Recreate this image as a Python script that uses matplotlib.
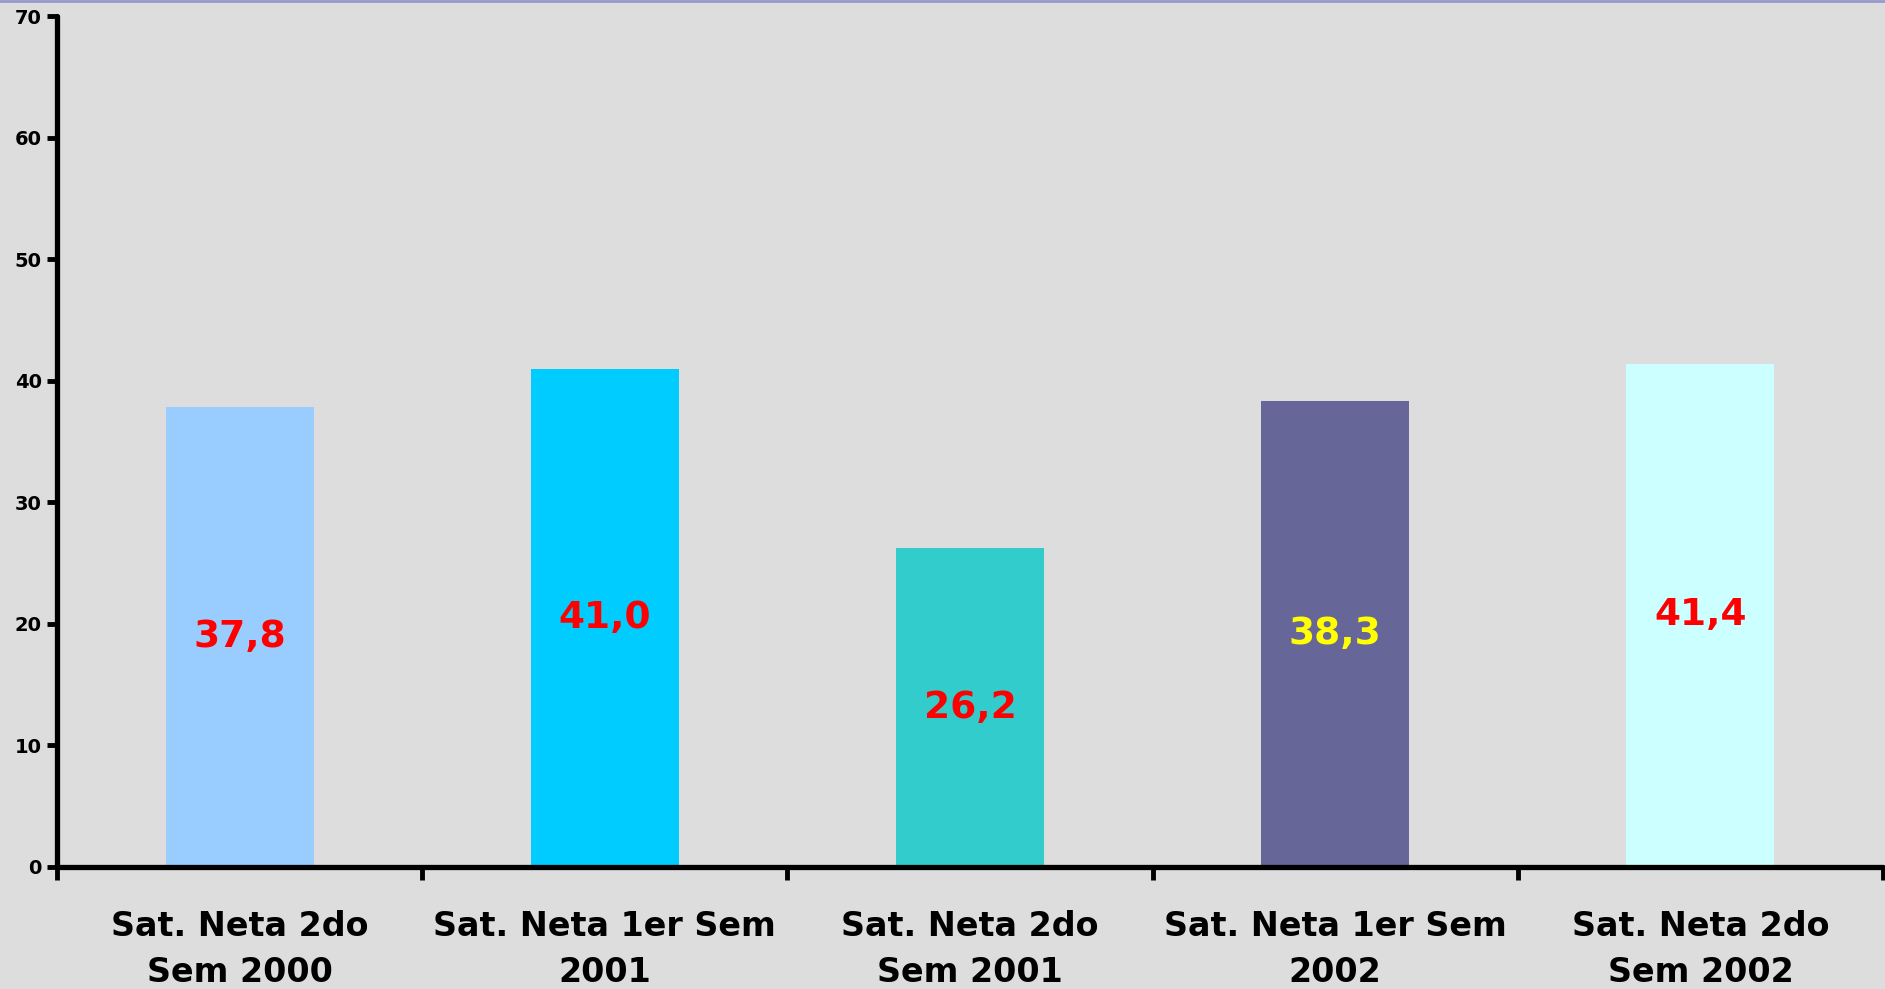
import matplotlib
matplotlib.use("Agg")
import matplotlib.pyplot as plt
from matplotlib.lines import Line2D

# Satisfacción neta por semestre
categories = [
    "Sat. Neta 2do\nSem 2000",
    "Sat. Neta 1er Sem\n2001",
    "Sat. Neta 2do\nSem 2001",
    "Sat. Neta 1er Sem\n2002",
    "Sat. Neta 2do\nSem 2002",
]
values = [37.8, 41.0, 26.2, 38.3, 41.4]
bar_colors = ["#99ccff", "#00ccff", "#33cccc", "#666699", "#ccffff"]
label_colors = ["#ff0000", "#ff0000", "#ff0000", "#ffff00", "#ff0000"]
y_ticks = [0, 10, 20, 30, 40, 50, 60, 70]

BG = "#dddddd"
plt.rcParams["font.family"] = ["DejaVu Sans"]

fig = plt.figure(figsize=(18.85, 9.89), dpi=100, facecolor=BG)
ax = fig.add_axes([57 / 1885, 1 - 867 / 989, 1826 / 1885, 851 / 989])
ax.set_facecolor(BG)

x = list(range(len(categories)))
bars = ax.bar(x, values, width=0.405, color=bar_colors, zorder=2)

for xi, v, c in zip(x, values, label_colors):
    ax.text(xi, v / 2, f"{v:.1f}".replace(".", ","), ha="center", va="center",
            color=c, fontsize=27, fontweight="bold", zorder=3)

ax.set_xlim(-0.5, len(categories) - 0.5)
ax.set_ylim(0, 70)

# y axis
ax.set_yticks(y_ticks)
ax.set_yticklabels([str(t) for t in y_ticks], fontsize=14, fontweight="bold")
ax.tick_params(axis="y", length=7, width=3.5, pad=4, direction="out")

# x axis: ticks at category boundaries, labels at centres
ax.set_xticks([i - 0.5 for i in range(len(categories) + 1)])
ax.set_xticklabels([])
ax.tick_params(axis="x", which="major", length=9, width=3.5, direction="out")
ax.set_xticks(x, minor=True)
ax.set_xticklabels(categories, minor=True, fontsize=24, fontweight="bold",
                   linespacing=1.5)
ax.tick_params(axis="x", which="minor", length=0, pad=31)

for side in ("top", "right"):
    ax.spines[side].set_visible(False)
for side in ("left", "bottom"):
    ax.spines[side].set_linewidth(3.8)
    ax.spines[side].set_color("black")
    ax.spines[side].set_capstyle("round")

# thin border line along the top of the figure
fig.add_artist(Line2D([0, 1], [0.999, 0.999], transform=fig.transFigure,
                      color="#9999cc", linewidth=2))

fig.savefig("out.png", dpi=100, facecolor=BG)
